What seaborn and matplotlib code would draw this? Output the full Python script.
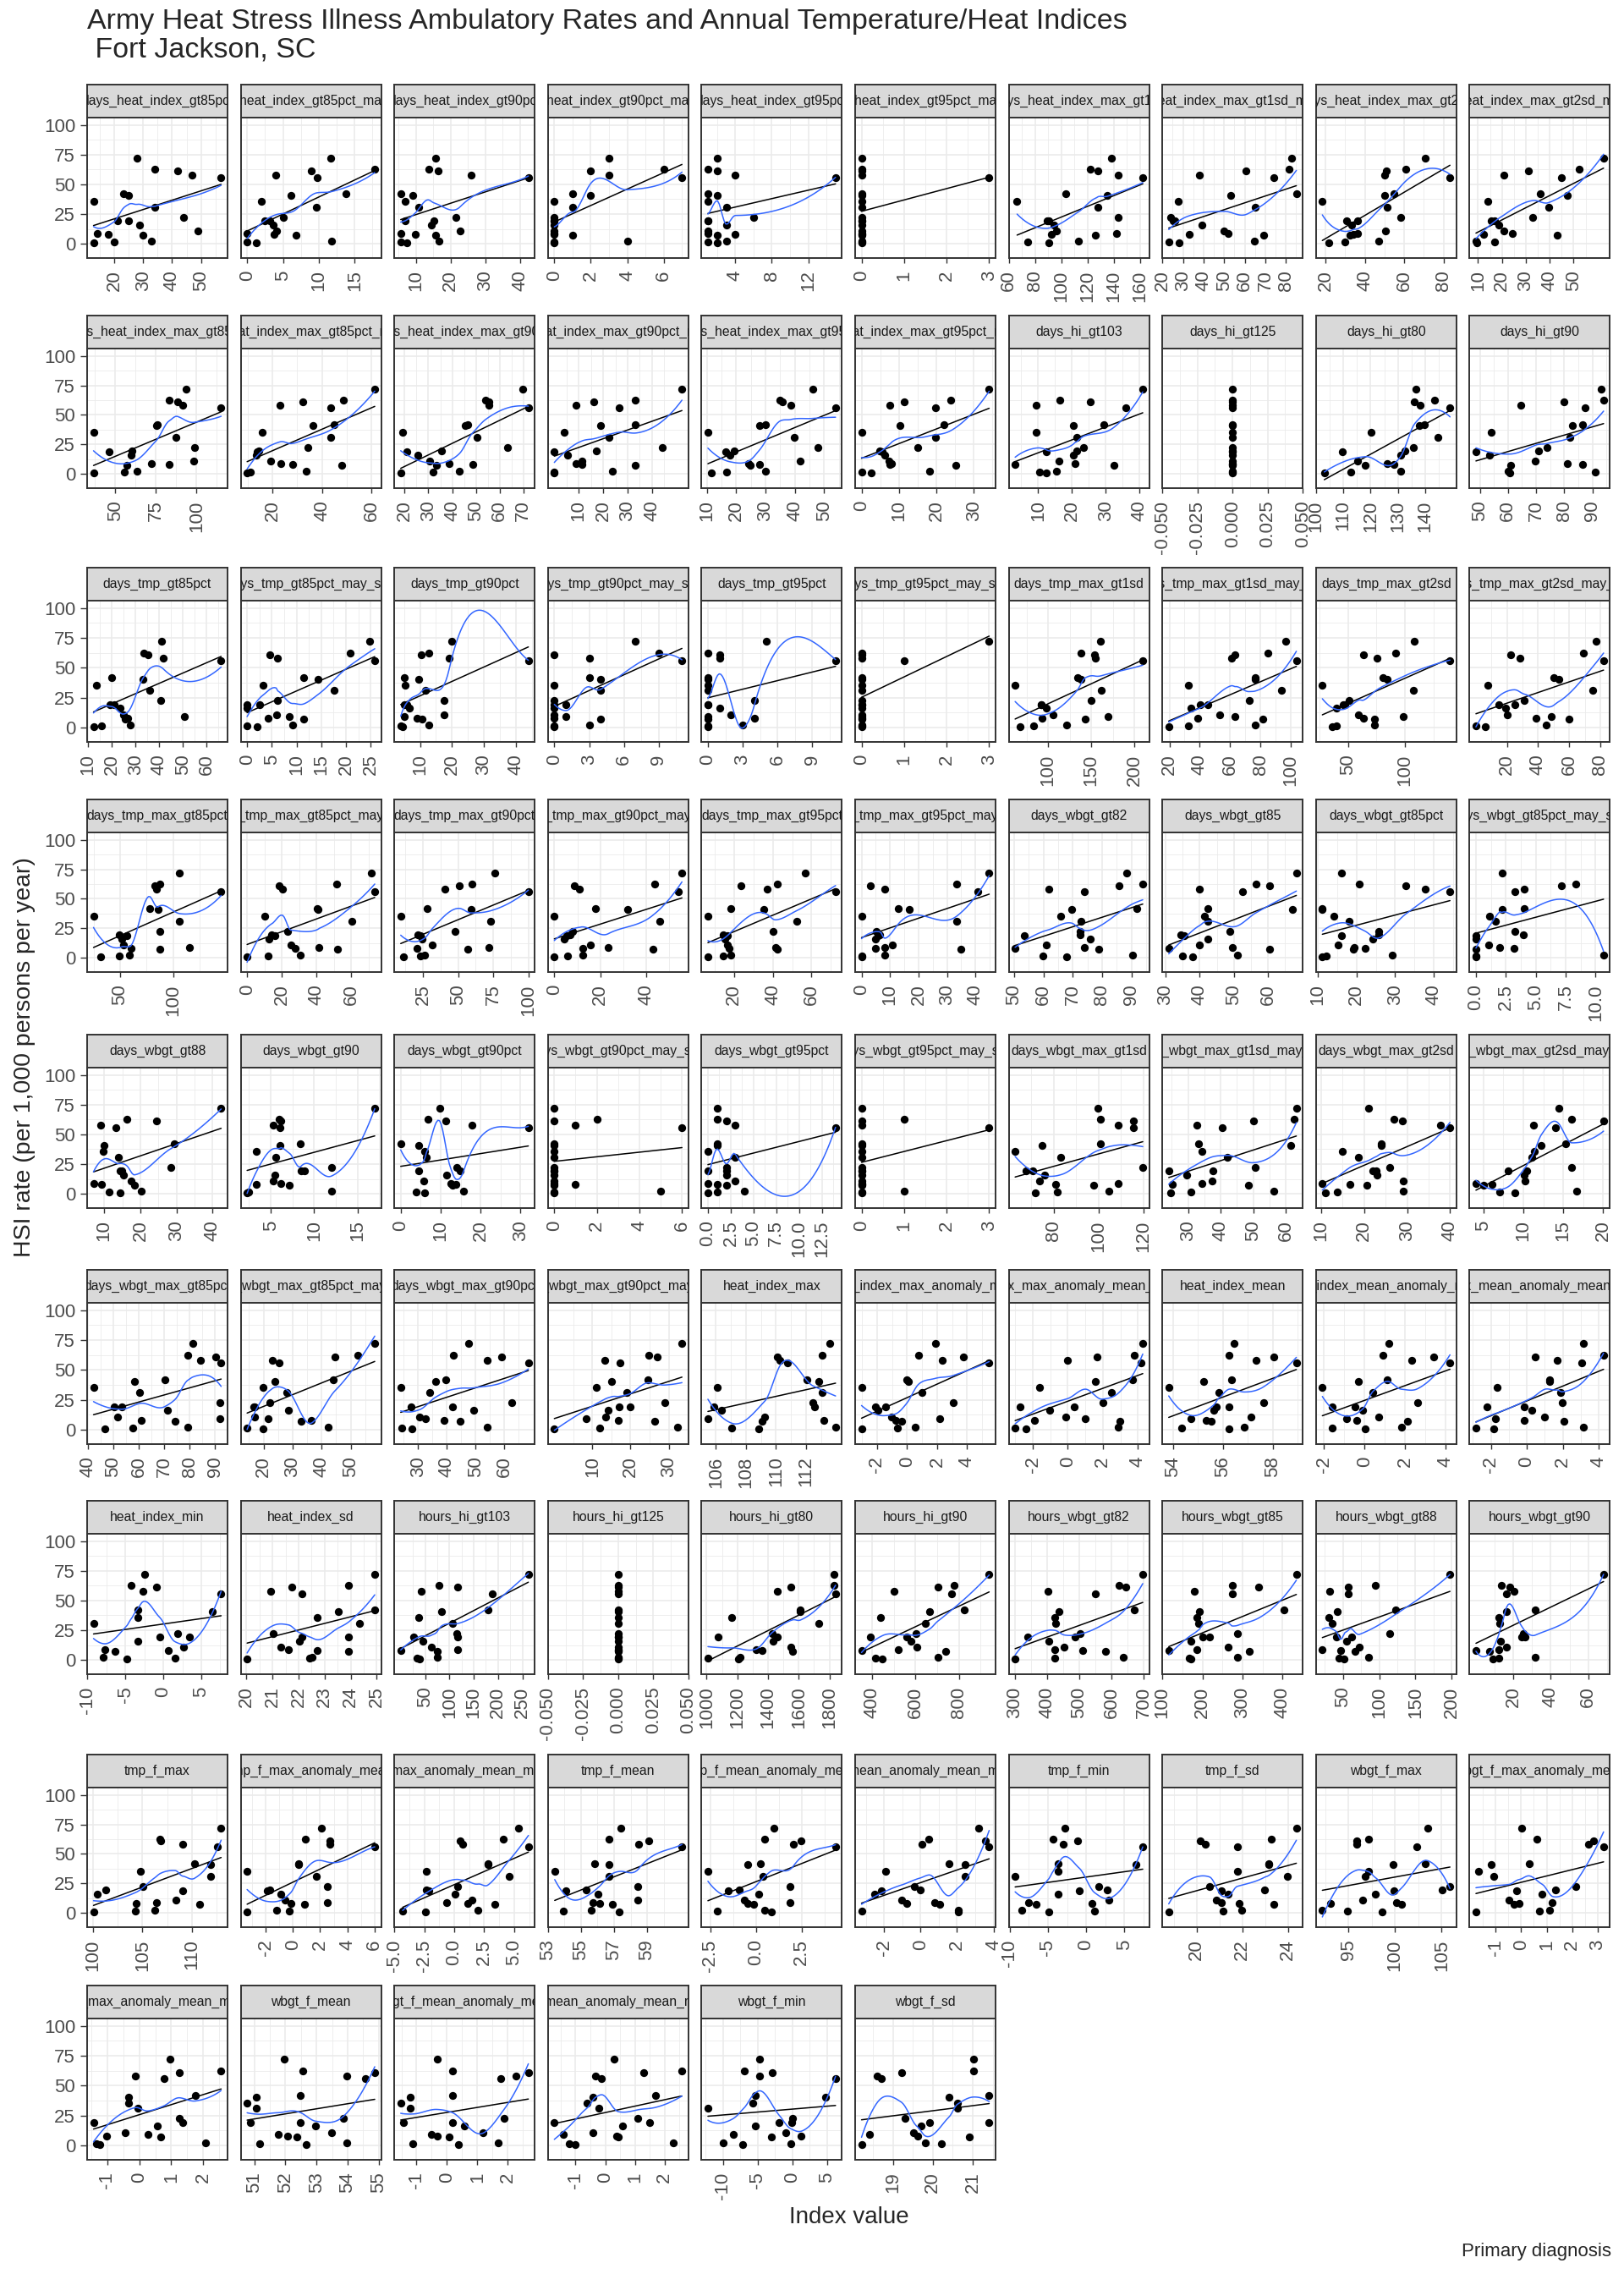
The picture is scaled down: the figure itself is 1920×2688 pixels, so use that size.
import numpy as np
import matplotlib
matplotlib.use("Agg")
import matplotlib.pyplot as plt
import matplotlib.transforms as mtransforms
import seaborn as sns

TITLE = "Army Heat Stress Illness Ambulatory Rates and Annual Temperature/Heat Indices\n Fort Jackson, SC"
Y_LABEL = "HSI rate (per 1,000 persons per year)"
X_LABEL = "Index value"
CAPTION = "Primary diagnosis"

# annual HSI ambulatory rate (same years in every panel)
hsi_rate = [72, 62.5, 61, 58, 56, 42, 40.7, 35.4, 31, 22.5, 19.4, 19, 16, 11, 9, 8, 7, 2.4, 1.5, 0.7]
y_tick_labels = ["0", "25", "50", "75", "100"]

panel_names = [
    "days_heat_index_gt85pct", "days_heat_index_gt85pct_may_sep", "days_heat_index_gt90pct",
    "days_heat_index_gt90pct_may_sep", "days_heat_index_gt95pct", "days_heat_index_gt95pct_may_sep",
    "days_heat_index_max_gt1sd", "days_heat_index_max_gt1sd_may_sep", "days_heat_index_max_gt2sd",
    "days_heat_index_max_gt2sd_may_sep",
    "days_heat_index_max_gt85pct", "days_heat_index_max_gt85pct_may_sep", "days_heat_index_max_gt90pct",
    "days_heat_index_max_gt90pct_may_sep", "days_heat_index_max_gt95pct", "days_heat_index_max_gt95pct_may_sep",
    "days_hi_gt103", "days_hi_gt125", "days_hi_gt80", "days_hi_gt90",
    "days_tmp_gt85pct", "days_tmp_gt85pct_may_sep", "days_tmp_gt90pct", "days_tmp_gt90pct_may_sep",
    "days_tmp_gt95pct", "days_tmp_gt95pct_may_sep", "days_tmp_max_gt1sd", "days_tmp_max_gt1sd_may_sep",
    "days_tmp_max_gt2sd", "days_tmp_max_gt2sd_may_sep",
    "days_tmp_max_gt85pct", "days_tmp_max_gt85pct_may_sep", "days_tmp_max_gt90pct", "days_tmp_max_gt90pct_may_sep",
    "days_tmp_max_gt95pct", "days_tmp_max_gt95pct_may_sep", "days_wbgt_gt82", "days_wbgt_gt85",
    "days_wbgt_gt85pct", "days_wbgt_gt85pct_may_sep",
    "days_wbgt_gt88", "days_wbgt_gt90", "days_wbgt_gt90pct", "days_wbgt_gt90pct_may_sep",
    "days_wbgt_gt95pct", "days_wbgt_gt95pct_may_sep", "days_wbgt_max_gt1sd", "days_wbgt_max_gt1sd_may_sep",
    "days_wbgt_max_gt2sd", "days_wbgt_max_gt2sd_may_sep",
    "days_wbgt_max_gt85pct", "days_wbgt_max_gt85pct_may_sep", "days_wbgt_max_gt90pct",
    "days_wbgt_max_gt90pct_may_sep", "heat_index_max", "heat_index_max_anomaly_mean",
    "heat_index_max_anomaly_mean_may_sep", "heat_index_mean", "heat_index_mean_anomaly_mean",
    "heat_index_mean_anomaly_mean_may_sep",
    "heat_index_min", "heat_index_sd", "hours_hi_gt103", "hours_hi_gt125", "hours_hi_gt80", "hours_hi_gt90",
    "hours_wbgt_gt82", "hours_wbgt_gt85", "hours_wbgt_gt88", "hours_wbgt_gt90",
    "tmp_f_max", "tmp_f_max_anomaly_mean", "tmp_f_max_anomaly_mean_may_sep", "tmp_f_mean",
    "tmp_f_mean_anomaly_mean", "tmp_f_mean_anomaly_mean_may_sep", "tmp_f_min", "tmp_f_sd",
    "wbgt_f_max", "wbgt_f_max_anomaly_mean",
    "wbgt_f_max_anomaly_mean_may_sep", "wbgt_f_mean", "wbgt_f_mean_anomaly_mean",
    "wbgt_f_mean_anomaly_mean_may_sep", "wbgt_f_min", "wbgt_f_sd",
]

# ---- index values (aligned with hsi_rate) and x tick labels per panel ----
days_heat_index_gt85pct = [27.9, 34, 41.8, 47, 57, 23, 25, 12.75, 34, 43.9, 25, 21, 28.8, 49, 14, 17.8, 30, 32.8, 19.8, 12.9]
days_heat_index_gt85pct_ticks = ["20", "30", "40", "50"]
days_heat_index_gt85pct_may_sep = [10.6, 16.7, 7.9, 2.9, 8.7, 12.7, 5, 0.9, 8.6, 3.9, 1.4, 2.1, 2.5, 3, 0, 2.6, 5.7, 10.7, 0, 0.2]
days_heat_index_gt85pct_may_sep_ticks = ["0", "5", "10", "15"]
days_heat_index_gt90pct = [13.3, 11.2, 13.9, 23.4, 40, 3.2, 6.7, 4.4, 8.5, 19.2, 4.4, 12.7, 12, 20.4, 3.2, 7.3, 13.3, 14.2, 3.2, 5]
days_heat_index_gt90pct_ticks = ["10", "20", "30", "40"]
days_heat_index_gt90pct_may_sep = [3, 6, 2, 3, 7, 1, 2, 0, 1, 0, 0, 0, 0, 0, 0, 0, 1, 4, 0, 0]
days_heat_index_gt90pct_may_sep_ticks = ["0", "2", "4", "6"]
days_heat_index_gt95pct = [2, 1, 2, 4, 15, 1, 2, 1, 3, 6, 1, 1, 3, 1, 1, 4, 2, 3, 1, 2]
days_heat_index_gt95pct_ticks = ["4", "8", "12"]
days_heat_index_gt95pct_may_sep = [0, 0, 0, 0, 3, 0, 0, 0, 0, 0, 0, 0, 0, 0, 0, 0, 0, 0, 0, 0]
days_heat_index_gt95pct_may_sep_ticks = ["0", "1", "2", "3"]
days_heat_index_max_gt1sd = [132, 116, 122, 137, 156, 97, 129, 60, 122, 137, 83, 84, 88, 90, 136, 86, 120, 107, 68, 84]
days_heat_index_max_gt1sd_ticks = ["60", "80", "100", "120", "140", "160"]
days_heat_index_max_gt1sd_may_sep = [78.5, 77.5, 56.5, 34, 70, 81, 49, 23.5, 61, 20, 22, 21, 35, 46, 48, 29, 65, 60.5, 19, 24]
days_heat_index_max_gt1sd_may_sep_ticks = ["20", "30", "40", "50", "60", "70", "80"]
days_heat_index_max_gt2sd = [66.5, 56.4, 46.7, 45.7, 79, 50.5, 45.7, 14, 47, 54, 31.8, 26.4, 29, 46, 31.8, 30, 28, 42.5, 25.3, 17.3]
days_heat_index_max_gt2sd_ticks = ["20", "40", "60", "80"]
days_heat_index_max_gt2sd_may_sep = [59, 48.7, 27.4, 17.4, 41.3, 32.6, 44, 10.4, 36, 29.5, 13.5, 12, 15, 17.4, 21, 8.7, 39.5, 5.6, 13.5, 6]
days_heat_index_max_gt2sd_may_sep_ticks = ["10", "20", "30", "40", "50"]

days_heat_index_max_gt85pct = [88.5, 78, 83, 86.5, 110, 70.5, 70, 31.4, 82, 93.6, 55, 41, 54.5, 93, 67, 78, 52, 58, 50.6, 31.4]
days_heat_index_max_gt85pct_ticks = ["50", "75", "100"]
days_heat_index_max_gt85pct_may_sep = [58, 45.4, 29, 19.6, 40, 41.7, 33, 12.5, 40, 31, 11, 10.5, 10, 16, 20, 24.6, 44.6, 30.4, 7.5, 6.3]
days_heat_index_max_gt85pct_may_sep_ticks = ["20", "40", "60"]
days_heat_index_max_gt90pct = [66, 50.5, 52, 52, 68.5, 43, 42, 15.7, 47, 59.7, 32, 17.4, 22, 27, 35, 45, 30, 39.5, 28.4, 14.8]
days_heat_index_max_gt90pct_ticks = ["20", "30", "40", "50", "60", "70"]
days_heat_index_max_gt90pct_may_sep = [49, 30, 12.8, 5.5, 23.4, 30, 15.7, 0.7, 19, 41, 14, 0, 2, 8, 5.5, 8, 30, 20.5, 0, 0]
days_heat_index_max_gt90pct_may_sep_ticks = ["10", "20", "30", "40"]
days_heat_index_max_gt95pct = [43.2, 32, 33, 35.8, 51, 27, 25, 7.5, 37, 45, 16.4, 13.5, 15, 39, 21.4, 25, 22, 27, 14, 8.6]
days_heat_index_max_gt95pct_ticks = ["10", "20", "30", "40", "50"]
days_heat_index_max_gt95pct_may_sep = [32, 21.8, 9.3, 5.4, 17.7, 20, 8.2, 0, 17.7, 13, 2.7, 3.3, 4, 5.2, 6, 5.5, 23, 16, 0, 0.5]
days_heat_index_max_gt95pct_may_sep_ticks = ["0", "10", "20", "30"]
days_hi_gt103 = [38.5, 14, 23, 7, 33.4, 27, 18, 7, 19, 21, 19, 10, 17.9, 13.6, 18.5, 0.7, 30, 13, 8, 10]
days_hi_gt103_ticks = ["10", "20", "30", "40"]
days_hi_gt125 = [0, 0, 0, 0, 0, 0, 0, 0, 0, 0, 0, 0, 0, 0, 0, 0, 0, 0, 0, 0]
days_hi_gt125_ticks = ["-0.050", "-0.025", "0.000", "0.025", "0.050"]
days_hi_gt80 = [133.5, 140.4, 133, 135, 146, 136.5, 134.6, 117, 141.5, 132.7, 129.6, 106.5, 128, 112.3, 123, 125.4, 115, 128, 109.6, 100]
days_hi_gt80_ticks = ["100", "110", "120", "130", "140"]
days_hi_gt90 = [90, 91, 77, 61.5, 84.4, 83.5, 80, 51, 79, 71, 68, 45.6, 50.4, 66.7, 78, 83.4, 58, 57, 88, 57.8]
days_hi_gt90_ticks = ["50", "60", "70", "80", "90"]

days_tmp_gt85pct = [37.4, 30, 31.7, 38.3, 62.6, 16.5, 29.6, 10, 32.6, 37, 15.7, 17.4, 20, 21.3, 47, 23, 22, 24.3, 12, 8.7]
days_tmp_gt85pct_ticks = ["10", "20", "30", "40", "50", "60"]
days_tmp_gt85pct_may_sep = [23.2, 19.2, 3, 4.6, 24.2, 9.8, 12.8, 1.6, 16, 4.6, 0, 1, 0, 4.4, 7, 2.6, 9.8, 7.6, 0, 0.5]
days_tmp_gt85pct_may_sep_ticks = ["0", "5", "10", "15", "20", "25"]
days_tmp_gt90pct = [17.4, 10, 7.7, 16.5, 41.3, 2.3, 7, 2.6, 9, 15, 2.5, 3.2, 4, 15, 2.3, 6.4, 8, 10, 1.3, 2]
days_tmp_gt90pct_ticks = ["10", "20", "30", "40"]
days_tmp_gt90pct_may_sep = [7, 9, 0, 3, 11, 3, 4, 0, 4, 0, 1, 0, 0, 0, 1, 0, 4, 3, 0, 0]
days_tmp_gt90pct_may_sep_ticks = ["0", "3", "6", "9"]
days_tmp_gt95pct = [5, 0, 1, 1, 11, 0, 0, 0, 0, 4, 0, 0, 1, 2, 0, 4, 0, 3, 0, 0]
days_tmp_gt95pct_ticks = ["0", "3", "6", "9"]
days_tmp_gt95pct_may_sep = [3, 0, 0, 0, 1, 0, 0, 0, 0, 0, 0, 0, 0, 0, 0, 0, 0, 0, 0, 0]
days_tmp_gt95pct_may_sep_ticks = ["0", "1", "2", "3"]
days_tmp_max_gt1sd = [151, 128.6, 144, 145, 200, 124, 128.6, 52, 152, 140, 82, 82, 88, 96, 160, 83, 133, 112, 73, 58]
days_tmp_max_gt1sd_ticks = ["100", "150", "200"]
days_tmp_max_gt1sd_may_sep = [91, 79, 57.6, 55.6, 98, 71, 71, 27, 88, 67, 35, 40, 28.7, 47.5, 57.6, 33, 75.7, 71, 26.7, 14]
days_tmp_max_gt1sd_may_sep_ticks = ["20", "40", "60", "80", "100"]
days_tmp_max_gt2sd = [101, 84.5, 56, 68, 132, 73, 77, 20, 100, 43.6, 38, 40, 32, 52, 91, 56, 66, 66, 32, 29]
days_tmp_max_gt2sd_ticks = ["50", "100"]
days_tmp_max_gt2sd_may_sep = [72, 64, 17, 23, 77, 45, 48, 2.4, 70, 26, 20, 9.5, 14, 15, 43.5, 33.7, 55, 40, 0, 1]
days_tmp_max_gt2sd_may_sep_ticks = ["20", "40", "60", "80"]

days_tmp_max_gt85pct = [98, 79, 74.5, 76, 137, 70, 77.5, 17, 98, 79, 41.5, 48, 43.4, 45, 107.5, 52, 79, 51, 41.5, 23.6]
days_tmp_max_gt85pct_ticks = ["50", "100"]
days_tmp_max_gt85pct_may_sep = [67, 47, 14, 16, 69, 36, 36.5, 5.7, 56, 19, 9.7, 11.4, 8, 20.6, 37, 23, 47.4, 26.3, 7.4, 0]
days_tmp_max_gt85pct_may_sep_ticks = ["0", "20", "40", "60"]
days_tmp_max_gt90pct = [70, 54, 45, 34.6, 94, 22, 53, 3, 67, 42, 15, 17, 18, 25.7, 66, 14.6, 51, 20, 17, 5]
days_tmp_max_gt90pct_ticks = ["25", "50", "75", "100"]
days_tmp_max_gt90pct_may_sep = [52, 40, 5.3, 7.5, 50.4, 14.5, 28.5, 0, 42.5, 4.4, 3.5, 2, 1, 12.3, 20, 8.8, 39.5, 8.8, 2.2, 0]
days_tmp_max_gt90pct_may_sep_ticks = ["0", "20", "40"]
days_tmp_max_gt95pct = [52.6, 38, 19.5, 33, 68, 14, 31, 2.3, 48, 36, 10, 12.5, 11, 12.5, 37, 13, 38, 14, 10, 2.3]
days_tmp_max_gt95pct_ticks = ["20", "40", "60"]
days_tmp_max_gt95pct_may_sep = [42, 30.7, 0.4, 5.4, 38, 10, 14, 0, 30.7, 2.5, 3.6, 3, 2, 8, 5.5, 2, 32, 5.4, 0, 0]
days_tmp_max_gt95pct_may_sep_ticks = ["0", "10", "20", "30", "40"]
days_wbgt_gt82 = [85.4, 91, 83, 59, 71, 89, 66.8, 63, 70, 69.6, 69.6, 50.7, 73, 58, 71, 47.5, 76, 87.5, 57, 65]
days_wbgt_gt82_ticks = ["50", "60", "70", "80", "90"]
days_wbgt_gt85 = [65.8, 54, 58, 37.5, 50, 40, 64.6, 39, 40, 46.4, 32, 33, 40, 37.5, 47, 28.5, 58, 48.5, 32.4, 35.4]
days_wbgt_gt85_ticks = ["30", "40", "50", "60"]
days_wbgt_gt85pct = [14, 18.6, 30.6, 35.5, 42, 9, 9, 12, 16, 23.5, 23.5, 14, 22, 13, 17.3, 20, 17, 27, 10, 9]
days_wbgt_gt85pct_ticks = ["10", "20", "30", "40"]
days_wbgt_gt85pct_may_sep = [1.5, 7.7, 6.5, 3.4, 2.6, 3.4, 1.5, 0.5, 1, 2.6, 3.3, 0, 0, 0.4, 1.3, 2.5, 0, 10, 0, 0]
days_wbgt_gt85pct_may_sep_ticks = ["0.0", "2.5", "5.0", "7.5", "10.0"]

days_wbgt_gt88 = [40, 14, 22, 6.6, 10.8, 27, 7.5, 7.3, 11.7, 26, 12, 12.5, 13, 15, 4.7, 7, 16, 18, 9, 12]
days_wbgt_gt88_ticks = ["10", "20", "30", "40"]
days_wbgt_gt90 = [16, 5, 5.2, 4.3, 5.1, 7.4, 5.1, 2.4, 4.6, 11, 7.9, 7.5, 4.5, 4.3, 5.2, 2.4, 6.2, 11, 1.5, 1.3]
days_wbgt_gt90_ticks = ["5", "10", "15"]
days_wbgt_gt90pct = [7.8, 4.8, 9.3, 15.8, 30, 0, 2.5, 4, 4.5, 12, 13, 2.5, 9.5, 3.8, 10.5, 11.8, 11, 13.8, 1.8, 4]
days_wbgt_gt90pct_ticks = ["0", "10", "20", "30"]
days_wbgt_gt90pct_may_sep = [0, 2, 0, 1, 6, 0, 0, 0, 0, 0, 0, 0, 0, 0, 0, 1, 0, 5, 0, 0]
days_wbgt_gt90pct_may_sep_ticks = ["0", "2", "4", "6"]
days_wbgt_gt95pct = [1, 1, 2, 3, 14, 1, 1, 0, 3, 2, 2, 0, 2, 3, 0, 1, 2, 4, 1, 0]
days_wbgt_gt95pct_ticks = ["0.0", "2.5", "5.0", "7.5", "10.0", "12.5"]
days_wbgt_gt95pct_may_sep = [0, 1, 0, 0, 3, 0, 0, 0, 0, 0, 0, 0, 0, 0, 0, 0, 0, 1, 0, 0]
days_wbgt_gt95pct_may_sep_ticks = ["0", "1", "2", "3"]
days_wbgt_max_gt1sd = [96, 97, 112, 105, 112, 97, 71, 59, 79.5, 116, 64, 67, 72, 70, 105, 77, 94, 101, 78, 68]
days_wbgt_max_gt1sd_ticks = ["80", "100", "120"]
days_wbgt_max_gt1sd_may_sep = [60.6, 60, 47.4, 30, 38, 30.6, 59, 31.6, 39.5, 48, 35, 21.5, 27, 34.7, 31.6, 22.7, 46, 53.6, 28.4, 22]
days_wbgt_max_gt1sd_may_sep_ticks = ["30", "40", "50", "60"]
days_wbgt_max_gt2sd = [19, 25, 27, 35.8, 38, 22, 22, 13, 16.6, 24, 20.8, 20, 21, 27.2, 8.3, 14.7, 18.6, 27.2, 11.7, 9]
days_wbgt_max_gt2sd_ticks = ["10", "20", "30", "40"]
days_wbgt_max_gt2sd_may_sep = [13.4, 15, 19, 10.2, 13, 14.2, 11.2, 10.3, 10, 15, 9.4, 7, 9, 9.2, 3, 5, 4, 15.6, 6, 7.9]
days_wbgt_max_gt2sd_may_sep_ticks = ["5", "10", "15", "20"]

days_wbgt_max_gt85pct = [78, 76, 87, 81, 89, 67, 55, 39, 57, 88.4, 47, 50, 68, 48.5, 88.4, 57.7, 71, 76, 54.5, 43.6]
days_wbgt_max_gt85pct_ticks = ["40", "50", "60", "70", "80", "90"]
days_wbgt_max_gt85pct_may_sep = [55.4, 49.6, 41.8, 20, 22.5, 41, 21, 16.8, 25, 19.3, 13.6, 14, 25.7, 14, 18.6, 33.6, 30, 39.3, 11.4, 16.8]
days_wbgt_max_gt85pct_may_sep_ticks = ["20", "30", "40", "50"]
days_wbgt_max_gt90pct = [44.6, 39.3, 56, 51, 65.4, 36.8, 33, 21, 31, 59.6, 24.6, 39, 46.4, 27.5, 29.6, 36, 41.8, 51, 21.4, 25]
days_wbgt_max_gt90pct_ticks = ["30", "40", "50", "60"]
days_wbgt_max_gt90pct_may_sep = [31.4, 22.7, 24.8, 11.2, 15.2, 22.5, 13, 9, 17, 27, 17.8, 15, 12, 11.4, 6.2, 14.8, 24.2, 30.2, 9.8, 0]
days_wbgt_max_gt90pct_may_sep_ticks = ["10", "20", "30"]
heat_index_max = [113, 112.5, 109.5, 109.7, 110.2, 111.5, 112.3, 105.5, 112.5, 111.9, 112, 105.3, 105.8, 108.7, 104.9, 112.6, 108.5, 113.4, 106.5, 108.3]
heat_index_max_ticks = ["106", "108", "110", "112"]
heat_index_max_anomaly_mean = [1.3, 0.2, 3.2, 1.8, 4.9, -0.6, -0.5, -3.6, 0.4, 2.5, -2.7, -2, -2.5, -1.6, 1.6, -1.3, -0.9, 0, -1.2, -3.6]
heat_index_max_anomaly_mean_ticks = ["-2", "0", "2", "4"]
heat_index_max_anomaly_mean_may_sep = [3.8, 3.3, 1.2, -0.5, 3.7, 3.2, 1.1, -2.1, 2.0, 1.5, -3.2, -0.1, -1.5, -0.6, 0.5, -2.4, 2.5, 2.4, -3.5, -2.9]
heat_index_max_anomaly_mean_may_sep_ticks = ["-2", "0", "2", "4"]
heat_index_mean = [56.1, 55.9, 57.7, 57, 58.6, 56, 54.9, 53.5, 55.5, 57.3, 55.4, 55.9, 55.3, 56.8, 54.4, 55, 55.2, 56.5, 54, 55.9]
heat_index_mean_ticks = ["54", "56", "58"]
heat_index_mean_anomaly_mean = [0.8, 0.5, 3, 1.9, 3.8, 0.7, -0.7, -2.5, 0, 2.2, -2, -0.9, -0.5, 0.3, -1.3, -0.8, 1.7, 1.4, -2, -0.4]
heat_index_mean_anomaly_mean_ticks = ["-2", "0", "2", "4"]
heat_index_mean_anomaly_mean_may_sep = [2.7, 3.8, 0, 1.2, 2.6, 0.8, 0.8, -2.1, 1.4, 1.5, -2.7, -0.6, -0.2, 0.5, -2.2, -0.6, 1.6, 2.7, -3.3, -2.3]
heat_index_mean_anomaly_mean_may_sep_ticks = ["-2", "0", "2", "4"]

heat_index_min = [-3.6, -5.4, -2, -3.8, 6.5, -4.5, 5.3, -4.5, -10.3, 0.8, 2.3, -1.6, -4.5, 1.5, -8.8, -0.4, -7.5, -9, 0.4, -5.9]
heat_index_min_ticks = ["-10", "-5", "0", "5"]
heat_index_sd = [24.6, 23.6, 21.4, 20.6, 21.8, 24.6, 23.2, 22.4, 24, 20.7, 23.6, 21.8, 21.7, 21, 21.3, 22.4, 23.6, 22.2, 22.1, 19.7]
heat_index_sd_ticks = ["20", "21", "22", "23", "24", "25"]
hours_hi_gt103 = [246, 62, 100, 26, 171, 163, 68, 21, 90, 98, 100, 10, 30, 47, 100, 0, 59, 59, 18, 22]
hours_hi_gt103_ticks = ["50", "100", "150", "200", "250"]
hours_hi_gt125 = [0, 0, 0, 0, 0, 0, 0, 0, 0, 0, 0, 0, 0, 0, 0, 0, 0, 0, 0, 0]
hours_hi_gt125_ticks = ["-0.050", "-0.025", "0.000", "0.025", "0.050"]
hours_hi_gt80 = [1777, 1777, 1493, 1405, 1785, 1554, 1554, 1108, 1676, 1372, 1405, 1020, 1380, 1493, 1270, 1304, 1507, 1162, 953, 1150]
hours_hi_gt80_ticks = ["1000", "1200", "1400", "1600", "1800"]
hours_hi_gt90 = [900, 737, 665, 463, 728, 786, 627, 400, 607, 564, 352, 520, 540, 568, 482, 313, 700, 665, 376, 410]
hours_hi_gt90_ticks = ["400", "600", "800"]
hours_wbgt_gt82 = [671, 597, 618, 377, 523, 645, 410, 397, 400, 477, 460, 313, 380, 426, 397, 484, 555, 610, 397, 274]
hours_wbgt_gt82_ticks = ["300", "400", "500", "600", "700"]
hours_wbgt_gt85 = [413, 254, 318, 159, 254, 382, 172, 164, 170, 267, 197, 180, 150, 244, 164, 95, 295, 267, 146, 150]
hours_wbgt_gt85_ticks = ["100", "200", "300", "400"]
hours_wbgt_gt88 = [186, 83, 46, 20, 46, 111, 31, 19, 24, 103, 50, 29, 43, 61, 10, 35, 55, 74, 33, 40]
hours_wbgt_gt88_ticks = ["50", "100", "150", "200"]
hours_wbgt_gt90 = [64, 9.5, 14, 16, 12, 27.5, 12, 8, 8.4, 21, 22, 20, 9, 12, 8, 0, 3, 27.5, 8, 5]
hours_wbgt_gt90_ticks = ["20", "40", "60"]

tmp_f_max = [112.1, 105.9, 106, 108.2, 111.7, 109.4, 111, 103.9, 111, 104.2, 100.4, 108.2, 99.6, 107.5, 105.6, 103.5, 109.9, 105.4, 103.4, 99.2]
tmp_f_max_ticks = ["100", "105", "110"]
tmp_f_max_anomaly_mean = [1.5, 0.3, 2.1, 2.1, 5.4, -0.2, -0.2, -4, 1.1, 1.9, -2.3, -2.5, -1.5, -1.2, 1.9, -0.8, 0.2, -1.8, -0.9, -4]
tmp_f_max_anomaly_mean_ticks = ["-2", "0", "2", "4", "6"]
tmp_f_max_anomaly_mean_may_sep = [4.7, 3.4, -0.2, 0, 5.5, 2.1, 2.1, -3, 3.9, -0.4, -3, -2.8, -0.6, 0.8, -1.3, 0.4, 2.7, 1.3, -5, -3.1]
tmp_f_max_anomaly_mean_may_sep_ticks = ["-5.0", "-2.5", "0.0", "2.5", "5.0"]
tmp_f_mean = [56.9, 56.2, 58.6, 58, 60.6, 55.3, 56.2, 52.9, 56.2, 57.9, 54.8, 53.6, 55.5, 57.9, 55.2, 55.6, 56.4, 55.1, 53.4, 56.8]
tmp_f_mean_ticks = ["53", "55", "57", "59"]
tmp_f_mean_anomaly_mean = [0.5, 0, 2, 1.6, 3.9, -0.2, -0.9, -3.1, -0.1, 1.4, -1.4, -2, -0.3, -1.1, 1.4, -0.9, -0.6, 0, -2.6, 0.4]
tmp_f_mean_anomaly_mean_ticks = ["-2.5", "0.0", "2.5"]
tmp_f_mean_anomaly_mean_may_sep = [2.7, 0, 3.1, -0.4, 3.3, 1.1, 2, -2.4, 2, -0.8, -0.5, -2.6, -3, -1.5, 0.3, -1.2, 0.6, 1.6, -3.7, 1.6]
tmp_f_mean_anomaly_mean_may_sep_ticks = ["-2", "0", "2", "4"]
tmp_f_min = [-3.9, -5.4, -2.2, -4.1, 6.3, -4.8, 5.4, -4.8, -10.4, 0.5, 1.6, -2, -4.8, 1.9, -8.6, -0.4, -7.7, -9.5, 0, -6]
tmp_f_min_ticks = ["-10", "-5", "0", "5"]
tmp_f_sd = [24, 22.9, 19.8, 20, 21.4, 22.8, 22.8, 21.4, 23.6, 20.2, 22.6, 20.7, 21, 20.5, 20.7, 21.5, 23, 21.6, 20.8, 18.4]
tmp_f_sd_ticks = ["20", "22", "24"]
wbgt_f_max = [102.6, 96.3, 95, 95, 101.4, 102.3, 98.9, 96.3, 95.9, 105, 104.2, 99, 97, 95.6, 99.3, 92.2, 99.8, 91.3, 94, 97.7]
wbgt_f_max_ticks = ["95", "100", "105"]
wbgt_f_max_anomaly_mean = [-0.3, 0.3, 2.5, 2.3, 2.9, 0, -1.5, -2, -1.4, 1.8, 1, -0.5, 0.5, -0.8, 0.9, -0.4, -0.6, 0.8, 0.4, -2.1]
wbgt_f_max_anomaly_mean_ticks = ["-1", "0", "1", "2", "3"]

wbgt_f_max_anomaly_mean_may_sep = [0.7, 2.3, 1, -0.4, 0.5, 1.5, -0.6, -0.6, -0.3, 1, 1.1, -1.7, 0.3, -0.7, 0, -1.3, 0.4, 1.8, -1.6, -1.5]
wbgt_f_max_anomaly_mean_may_sep_ticks = ["-1", "0", "1", "2"]
wbgt_f_mean = [51.7, 52.3, 54.6, 53.7, 54.3, 52.2, 50.8, 50.5, 50.8, 53.6, 52.2, 50.6, 52.7, 53.2, 51.5, 51.8, 52.1, 53.7, 50.9, 52.4]
wbgt_f_mean_ticks = ["51", "52", "53", "54", "55"]
wbgt_f_mean_anomaly_mean = [-0.6, -0.1, 2.4, 2, 1.5, -0.1, -1.5, -1.8, -1.5, 1.6, -0.1, -1.7, 0.3, 0.9, -0.8, -0.6, -0.2, 1.4, -1.4, 0.1]
wbgt_f_mean_anomaly_mean_ticks = ["-1", "0", "1", "2"]
wbgt_f_mean_anomaly_mean_may_sep = [0, 2.3, 1, -0.6, -0.4, 1.4, -0.7, -0.9, -0.5, 0.8, 1.2, -2, 0.3, -0.7, -1.7, 0.1, 0.15, 2, -1.5, -1.3]
wbgt_f_mean_anomaly_mean_may_sep_ticks = ["-1", "0", "1", "2"]
wbgt_f_min = [-6, -8.2, -4.1, -6, 5, -6.6, 3.6, -6.9, -13.4, -1.2, -1.3, -3.1, -6.6, -2.2, -9.7, 0, -4.3, -11.2, -1.5, -8.4]
wbgt_f_min_ticks = ["-10", "-5", "0", "5"]
wbgt_f_sd = [20.8, 20.8, 19, 18.4, 18.5, 21.2, 20.2, 20.4, 20.4, 19.1, 21.2, 19.7, 19.5, 19.3, 18.2, 19.4, 20.7, 19.6, 20, 18]
wbgt_f_sd_ticks = ["19", "20", "21"]

# Most panels were read against the centres of the x tick labels, which in the
# reference sit about 10 px to the right of their tick marks; that reading offset
# is put back below.  These panels were read against the ticks themselves.
READ_OFFSET_PX = 10
read_at_ticks = {
    "days_heat_index_gt85pct", "days_heat_index_gt90pct_may_sep", "days_heat_index_gt95pct",
    "days_heat_index_gt95pct_may_sep", "days_hi_gt125", "days_tmp_gt90pct_may_sep", "days_tmp_gt95pct",
    "days_tmp_gt95pct_may_sep", "days_wbgt_gt90pct_may_sep", "days_wbgt_gt95pct",
    "days_wbgt_gt95pct_may_sep", "hours_hi_gt125",
}


# ---------------- loess (R-style: kd-tree vertices + cubic Hermite) ----------------
def _local_fit(x, y, x0, q):
    d = np.abs(x - x0)
    h = np.sort(d)[q - 1]
    if h <= 0:
        raise ValueError("span too small")
    r2 = (d / h) ** 2
    w = np.where(r2 > 0.999, 0.0, np.where(r2 < 0.001, 1.0, (1 - np.clip(r2, 0, 1) ** 1.5) ** 3))
    sw = np.sqrt(w)
    dx = x - x0
    X = np.column_stack([np.ones_like(x), dx, dx ** 2]) * sw[:, None]
    cn = np.linalg.norm(X, axis=0)
    cn[cn == 0] = 1.0
    b, *_ = np.linalg.lstsq(X / cn, y * sw, rcond=2.2e-14)
    b = b / cn
    return b[0], b[1]


def loess_curve(x, y, span=0.75, n_eval=80):
    n = len(x)
    q = int(np.floor(n * span))
    xs = np.sort(x)
    fc = int(np.floor(n * span * 0.2))
    xmin, xmax = xs[0], xs[-1]
    mu = 0.005 * max(xmax - xmin, 1e-10 * max(abs(xmin), abs(xmax)) + 1e-30)
    lo_b, hi_b = xmin - mu, xmax + mu
    verts = [lo_b, hi_b]

    def split(l, u, vlo, vhi):
        if u - l + 1 <= fc:
            return
        m = (l + u) // 2
        off = 0
        while (m + off < u) and (m + off >= l):
            if xs[m + off] == xs[m + off + 1]:
                off = -off
                if off >= 0:
                    off += 1
            else:
                m = m + off
                break
        v = xs[m]
        if v == vlo or v == vhi:
            return
        verts.append(v)
        split(l, m, vlo, v)
        split(m + 1, u, v, vhi)

    split(0, n - 1, lo_b, hi_b)
    verts = np.array(sorted(set(verts)))
    fits = [_local_fit(x, y, v, q) for v in verts]
    vals = np.array([f[0] for f in fits])
    slopes = np.array([f[1] for f in fits])
    xe = np.linspace(xmin, xmax, n_eval)
    out = np.empty(n_eval)
    for k, t in enumerate(xe):
        j = int(np.clip(np.searchsorted(verts, t, side="right") - 1, 0, len(verts) - 2))
        v0, v1 = verts[j], verts[j + 1]
        hh = v1 - v0
        s = (t - v0) / hh
        phi0 = (1 - s) ** 2 * (1 + 2 * s)
        phi1 = s ** 2 * (3 - 2 * s)
        psi0 = s * (1 - s) ** 2
        psi1 = -s ** 2 * (1 - s)
        out[k] = phi0 * vals[j] + phi1 * vals[j + 1] + (psi0 * slopes[j] + psi1 * slopes[j + 1]) * hh
    return xe, out


sns.set_style("white")
plt.rcParams["font.family"] = ["Liberation Sans", "DejaVu Sans"]

W, H = 1920, 2688
fig = plt.figure(figsize=(W / 100, H / 100), dpi=100)
label_shift = mtransforms.ScaledTranslation(READ_OFFSET_PX / 100, 0, fig.dpi_scale_trans)

panel_top = [139, 412, 710, 984, 1262, 1540, 1813, 2113, 2386]
panel_bot = [305, 577, 877, 1149, 1428, 1707, 1979, 2278, 2553]
strip_h = 39
left0, pitch, pw = 103, 181.6, 166
YLIM = (-12, 106.2)
EDGE = "#333333"
GRID = "#EBEBEB"
TICKCOL = "#4D4D4D"

y = np.array(hsi_rate, float)

for i, name in enumerate(panel_names):
    r, c = divmod(i, 10)
    x = np.array(globals()[name], float)
    if name not in read_at_ticks and np.ptp(x) > 0:
        delta = READ_OFFSET_PX * 1.1 * np.ptp(x) / pw
        if name.startswith(("days_", "hours_")):
            x = np.where(x == 0, 0.0, x + delta)
        else:
            x = x + delta
    tick_lbl = globals()[name + "_ticks"]
    ticks = np.array([float(t) for t in tick_lbl])
    L = left0 + c * pitch
    ax = fig.add_axes([L / W, 1 - panel_bot[r] / H, pw / W, (panel_bot[r] - panel_top[r]) / H])
    sax = fig.add_axes([L / W, 1 - panel_top[r] / H, pw / W, strip_h / H])

    lo, hi = x.min(), x.max()
    if hi - lo == 0:
        lo, hi = -0.05, 0.05
    else:
        pad = 0.05 * (hi - lo)
        lo, hi = lo - pad, hi + pad

    sns.scatterplot(x=x, y=y, ax=ax, color="black", s=45, linewidth=0, legend=False, zorder=3)
    if np.ptp(x) > 0:
        sns.regplot(x=x, y=y, ax=ax, scatter=False, ci=None, truncate=True, color="black",
                    line_kws=dict(lw=1.1, zorder=4))
        try:
            xs_l, ys_l = loess_curve(x, y)
            sns.lineplot(x=xs_l, y=ys_l, ax=ax, color="#3366FF", lw=1.1, estimator=None,
                         sort=False, zorder=5)
        except ValueError:
            pass

    ax.set_xlim(lo, hi)
    ax.set_ylim(*YLIM)
    ax.set_xlabel("")
    ax.set_ylabel("")
    ax.set_facecolor("white")

    step = ticks[1] - ticks[0]
    ext = np.concatenate([[ticks[0] - step], ticks, [ticks[-1] + step]])
    minors = (ext[:-1] + ext[1:]) / 2
    minors = minors[(minors > lo) & (minors < hi)]
    ax.set_xticks(ticks)
    ax.set_xticklabels(tick_lbl, rotation=90, fontsize=16, color=TICKCOL)
    for lab in ax.get_xticklabels():
        lab.set_transform(lab.get_transform() + label_shift)
    ax.set_xticks(minors, minor=True)
    ax.set_yticks([0, 25, 50, 75, 100])
    ax.set_yticks([12.5, 37.5, 62.5, 87.5], minor=True)
    ax.grid(which="major", color=GRID, lw=1.2)
    ax.grid(which="minor", color=GRID, lw=0.6)
    ax.set_axisbelow(True)
    ax.tick_params(which="minor", length=0)
    ax.tick_params(axis="x", which="major", direction="out", length=4.0, width=1.0,
                   color=EDGE, pad=6.5, bottom=True)
    if c == 0:
        ax.set_yticklabels(y_tick_labels, fontsize=16, color=TICKCOL)
        ax.tick_params(axis="y", which="major", direction="out", length=5.5, width=1.0,
                       color=EDGE, pad=4.5, left=True)
    else:
        ax.tick_params(axis="y", which="major", length=0, labelleft=False)
    for sp in ax.spines.values():
        sp.set_visible(True)
        sp.set_color(EDGE)
        sp.set_linewidth(1.4)

    sax.set_facecolor("#D9D9D9")
    sax.set_xticks([])
    sax.set_yticks([])
    for sp in sax.spines.values():
        sp.set_visible(True)
        sp.set_color(EDGE)
        sp.set_linewidth(1.4)
    sax.text(0.5, 0.5, name, ha="center", va="center", fontsize=11.3, color="#1A1A1A",
             transform=sax.transAxes, clip_on=True)

fig.text(103 / W, 1 - 10 / H, TITLE, ha="left", va="top", fontsize=24.5, linespacing=1.1)
fig.text(29 / W, 1 - 1250 / H, Y_LABEL, rotation=90, ha="center", va="center", fontsize=20.5)
fig.text(1004 / W, 1 - 2621 / H, X_LABEL, ha="center", va="center", fontsize=20)
fig.text(1905 / W, 1 - 2662 / H, CAPTION, ha="right", va="center", fontsize=16)

fig.savefig("out.png", dpi=100, facecolor="white")
